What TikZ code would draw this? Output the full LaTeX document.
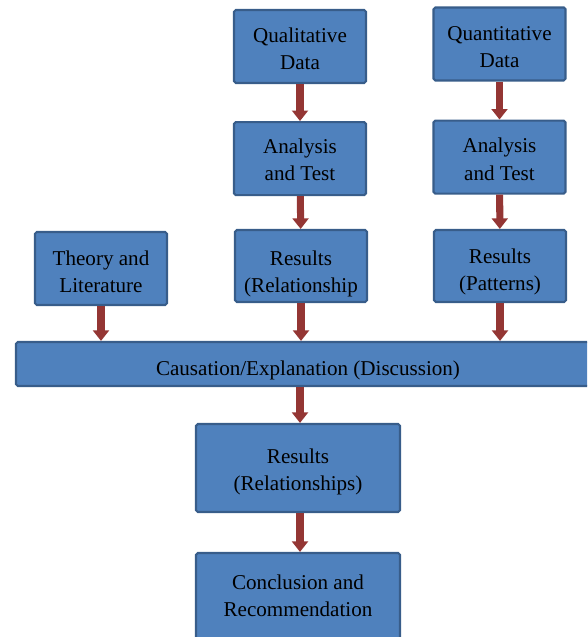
\documentclass[tikz,border=0pt]{standalone}
\usepackage{fontspec}
\setmainfont{Liberation Serif}
\usetikzlibrary{arrows.meta, positioning, calc}

\definecolor{boxfill}{HTML}{4F81BD}
\definecolor{boxline}{HTML}{385D8A}
\definecolor{arrowred}{HTML}{943634}
% text lowered inside a box
\newcommand\boxtext[2][0.08cm]{\raisebox{-#1}[\height][\depth]{\begin{tabular}{@{}c@{}}#2\end{tabular}}}

\begin{document}
\begin{tikzpicture}[
  font=\fontsize{12}{15.4}\selectfont,
  box/.style = {rectangle, draw=boxline, fill=boxfill, line width=1.2pt, rounded corners=1pt,
                align=center, minimum width=2.64cm, minimum height=1.46cm, inner sep=1pt},
  flow/.style = {draw=arrowred, line width=4pt, -{Triangle[width=9pt,length=6pt]}}
  ]
  \useasboundingbox (0,0) rectangle (11.74,-12.74);
  \clip (0,0) rectangle (11.74,-12.74);
  % upper row
  \node[box] (qual) at (6.00,-0.93) {\boxtext{Qualitative\\Data}};
  \node[box] (quant) at (9.99,-0.88) {\boxtext[0.1cm]{Quantitative\\Data}};
  \node[box, below=0.74cm of qual] (anl1) {\boxtext[0.06cm]{Analysis\\and Test}};
  \node[box, below=0.76cm of quant] (anl2) {\boxtext{Analysis\\and Test}};
  \node[box, minimum height=1.44cm] (rel) at (6.02,-5.32) {\boxtext[0.15cm]{Results\\(Relationship}};
  \node[box, minimum height=1.44cm] (pat) at (10.00,-5.32) {\boxtext[0.12cm]{Results\\(Patterns)}};
  \node[box] (theory) at (2.02,-5.37) {\boxtext[0.1cm]{Theory and\\Literature}};
  % discussion bar
  \node[box, minimum width=11.68cm, minimum height=0.88cm] (cause) at (6.16,-7.28) {\boxtext[0.12cm]{Causation/Explanation (Discussion)}};
  % lower column
  \node[box, minimum width=4.08cm, minimum height=1.76cm] (res) at (5.96,-9.36) {\boxtext{Results\\(Relationships)}};
  \node[box, minimum width=4.08cm, minimum height=1.74cm] (concl) at (5.96,-11.93) {\boxtext[0.03cm]{Conclusion and\\Recommendation}};
  \draw[flow] (qual) -- (anl1);
  \draw[flow] (quant) -- (anl2);
  \draw[flow] (anl1) -- (rel);
  \draw[flow] (anl2) -- (pat);
  \draw[flow] (theory.south) -- (theory.south |- cause.north);
  \draw[flow] (rel.south) -- (rel.south |- cause.north);
  \draw[flow] (pat.south) -- (pat.south |- cause.north);
  \draw[flow] ($(cause.south -| res.north)+(0.04,0)$) -- ($(res.north)+(0.04,0)$);
  \draw[flow] ($(res.south)+(0.04,0)$) -- ($(concl.north)+(0.04,0)$);
\end{tikzpicture}
\end{document}
